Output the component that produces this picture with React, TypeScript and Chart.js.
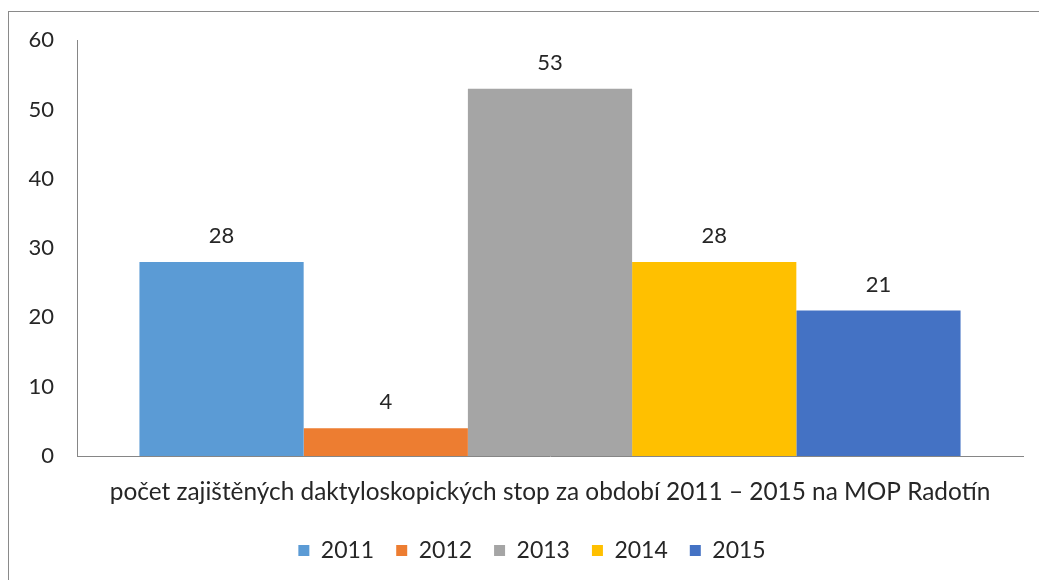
import React, { useEffect, useRef } from "react";
import { Chart, registerables } from "chart.js";

Chart.register(...registerables);

const categories = ["počet zajištěných daktyloskopických stop za období 2011 – 2015 na MOP Radotín"];
const seriesNames = ["2011", "2012", "2013", "2014", "2015"];
const seriesValues = [[28], [4], [53], [28], [21]];
const seriesColors = ["#5B9BD5", "#ED7D31", "#A5A5A5", "#FFC000", "#4472C4"];
const yTicks = [0, 10, 20, 30, 40, 50, 60];

const FONT = "Lato";
const TEXT = "#262626";

const valueLabels = {
  id: "valueLabels",
  afterDatasetsDraw(chart: any) {
    const ctx = chart.ctx;
    ctx.save();
    ctx.font = `22px ${FONT}`;
    ctx.fillStyle = TEXT;
    ctx.textAlign = "center";
    ctx.textBaseline = "middle";
    chart.data.datasets.forEach((ds: any, i: number) => {
      const meta = chart.getDatasetMeta(i);
      meta.data.forEach((el: any, j: number) => {
        ctx.fillText(String(ds.data[j]), el.x, el.y - 26);
      });
    });
    ctx.restore();
  },
};

const legendShift = {
  id: "legendShift",
  afterLayout(chart: any) {
    const lg = chart.legend;
    if (lg) {
      lg.left += 16;
      lg.right += 16;
    }
  },
};

export default function App() {
  const ref = useRef<HTMLCanvasElement>(null);
  useEffect(() => {
    if (!ref.current) return;
    const chart = new Chart(ref.current, {
      type: "bar",
      data: {
        labels: categories,
        datasets: seriesNames.map((n, i) => ({
          label: n,
          data: seriesValues[i],
          backgroundColor: seriesColors[i],
          borderWidth: 0,
          categoryPercentage: 0.868,
          barPercentage: 1,
        })),
      },
      options: {
        animation: false,
        responsive: false,
        maintainAspectRatio: false,
        layout: { padding: { left: 0, right: 16, top: 23, bottom: 8 } },
        plugins: {
          tooltip: { enabled: false },
          legend: {
            position: "bottom",
            labels: {
              boxWidth: 11,
              boxHeight: 11,
              padding: 22,
              color: TEXT,
              font: { family: FONT, size: 23 },
            },
          },
        },
        scales: {
          x: {
            grid: { display: false },
            border: { display: true, color: "#868686", width: 1 },
            ticks: { color: TEXT, font: { family: FONT, size: 24.4 }, padding: 14, maxRotation: 0 },
            afterFit: (s: any) => { s.height = 61; },
          },
          y: {
            min: 0,
            max: 60,
            afterBuildTicks: (s: any) => { s.ticks = yTicks.map((v) => ({ value: v })); },
            grid: { display: false },
            border: { display: true, color: "#868686", width: 1 },
            ticks: { color: TEXT, font: { family: FONT, size: 22 }, padding: 15 },
            afterFit: (s: any) => { s.width = 68; },
          },
        },
      },
      plugins: [valueLabels, legendShift],
    });
    return () => chart.destroy();
  }, []);
  return (
    <div
      style={{
        position: "absolute",
        left: 8,
        top: 11,
        width: 1031,
        height: 569,
        borderLeft: "1px solid #8a8a8a",
        borderTop: "1px solid #8a8a8a",
        boxSizing: "border-box",
        background: "#fff",
      }}
    >
      <canvas ref={ref} width={1030} height={568} style={{ display: "block" }} />
    </div>
  );
}
